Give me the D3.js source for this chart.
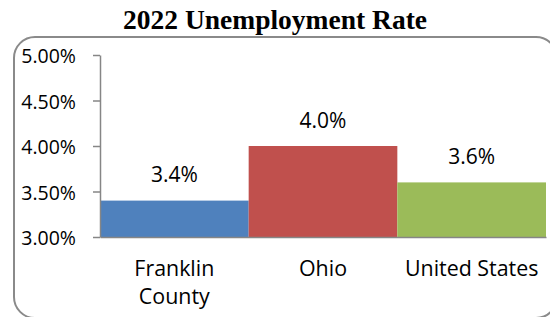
<!DOCTYPE html>
<html>
<head>
<meta charset="utf-8">
<script src="https://cdn.jsdelivr.net/npm/d3@7"></script>
<style>
  html, body { margin: 0; padding: 0; background: #fff; overflow: hidden; }
  svg { display: block; }
</style>
</head>
<body>
<svg id="chart" width="550" height="317"></svg>
<script>
const title = "2022 Unemployment Rate";
const categories = ["Franklin County", "Ohio", "United States"];
const categoryLines = [["Franklin", "County"], ["Ohio"], ["United States"]];
const values = [0.034, 0.040, 0.036];
const colors = ["#4F81BD", "#C0504D", "#9BBB59"];
const yTicks = [0.03, 0.035, 0.04, 0.045, 0.05];
const yDomain = [0.03, 0.05];

const svg = d3.select("#chart");
const font = "'Open Sans', sans-serif";

// outer rounded border (right side runs off the canvas)
const bx0 = 14, by0 = 37, bx1 = 557, by1 = 318, br = 21;
const p = d3.path();
p.moveTo(bx1, by0 + br);
p.arcTo(bx1, by0, bx1 - br, by0, br);
p.lineTo(bx0 + br, by0);
p.arcTo(bx0, by0, bx0, by0 + br, br);
p.lineTo(bx0, by1 - br);
p.arcTo(bx0, by1, bx0 + br, by1, br);
p.lineTo(bx1 - br, by1);
p.arcTo(bx1, by1, bx1, by1 - br, br);
svg.append("path")
  .attr("d", p.toString())
  .attr("fill", "none")
  .attr("stroke", "#8a8a8a")
  .attr("stroke-width", 2);

// title
svg.append("text")
  .attr("x", 275).attr("y", 29)
  .attr("text-anchor", "middle")
  .style("font-family", "'Liberation Serif', 'Times New Roman', serif")
  .style("font-weight", "bold")
  .style("font-size", "27.5px")
  .attr("fill", "#000")
  .text(title);

const x = d3.scaleBand().domain(categories).range([100, 546]).padding(0);
const y = d3.scaleLinear().domain(yDomain).range([237, 55]);

// bars
svg.append("g").selectAll("rect")
  .data(categories)
  .join("rect")
  .attr("x", d => x(d))
  .attr("y", (d, i) => y(values[i]))
  .attr("width", x.bandwidth())
  .attr("height", (d, i) => y(yDomain[0]) - y(values[i]))
  .attr("fill", (d, i) => colors[i]);

// y axis
const yAxis = svg.append("g")
  .attr("transform", "translate(100,0)")
  .call(d3.axisLeft(y).tickValues(yTicks).tickFormat(d3.format(".2%")).tickSize(7).tickSizeOuter(0).tickPadding(17));
yAxis.attr("font-size", null).attr("font-family", null);
yAxis.select(".domain").attr("stroke", "#868686").attr("stroke-width", 1.5);
yAxis.selectAll(".tick line").attr("stroke", "#868686").attr("stroke-width", 1.5);
yAxis.selectAll(".tick text")
  .attr("dy", "0.4em")
  .style("font-family", font).style("font-size", "19.5px").attr("fill", "#000");

// x axis
const xAxis = svg.append("g")
  .attr("transform", "translate(0,237)")
  .call(d3.axisBottom(x).tickSize(0).tickSizeOuter(0).tickFormat(""));
xAxis.select(".domain").attr("stroke", "#868686").attr("stroke-width", 1.5);
xAxis.selectAll(".tick text").remove();

// category labels
const catG = svg.append("g");
categories.forEach((c, i) => {
  const t = catG.append("text")
    .attr("x", x(c) + x.bandwidth() / 2)
    .attr("y", 276)
    .attr("text-anchor", "middle")
    .style("font-family", font)
    .style("font-size", "21.4px")
    .attr("fill", "#000");
  categoryLines[i].forEach((line, j) => {
    t.append("tspan")
      .attr("x", x(c) + x.bandwidth() / 2)
      .attr("dy", j === 0 ? 0 : 28)
      .text(line);
  });
});

// data labels
svg.append("g").selectAll("text")
  .data(categories)
  .join("text")
  .attr("x", d => x(d) + x.bandwidth() / 2)
  .attr("y", (d, i) => y(values[i]) - 18.5)
  .attr("text-anchor", "middle")
  .style("font-family", font)
  .style("font-size", "21px")
  .attr("fill", "#000")
  .text((d, i) => d3.format(".1%")(values[i]));
</script>
</body>
</html>
